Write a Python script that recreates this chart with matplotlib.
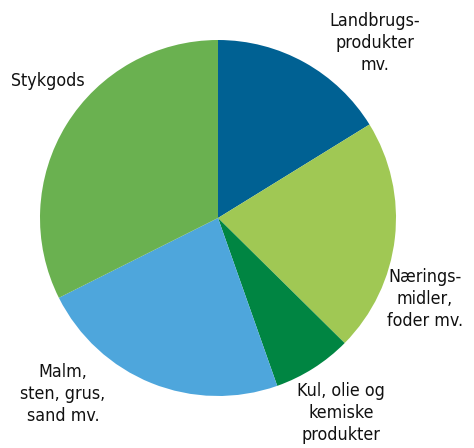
import matplotlib
matplotlib.use("Agg")
import matplotlib.pyplot as plt

labels = ["Landbrugs-\nprodukter\nmv.", "Nærings-\nmidler,\nfoder mv.", "Kul, olie og\nkemiske\nprodukter",
          "Malm,\nsten, grus,\nsand mv.", "Stykgods"]
shares = [16.2, 21.2, 7.2, 23.0, 32.4]
colors = ["#006193", "#a0c854", "#008542", "#4ea6dc", "#6ab150"]

# label anchor points (pixel coords, y from top)
label_pos = [(375, 43), (425, 299), (341, 413), (63, 394), (48, 81)]

plt.rcParams['font.family'] = ['DejaVu Sans']
plt.rcParams['font.stretch'] = 'condensed'

W, H = 474, 448
fig = plt.figure(figsize=(W / 100, H / 100), dpi=100)
ax = fig.add_axes([0, 0, 1, 1])

ax.pie(shares, colors=colors, startangle=90, counterclock=False,
       center=(218, H - 218), radius=178, frame=True,
       wedgeprops=dict(linewidth=0))
ax.set_xlim(0, W)
ax.set_ylim(0, H)
ax.set_aspect("equal")
ax.axis("off")

for text, (x, y) in zip(labels, label_pos):
    ax.text(x, H - y, text, ha="center", va="center", fontsize=12.8,
            linespacing=1.32, color="#111111")

fig.savefig("out.png", dpi=100)
